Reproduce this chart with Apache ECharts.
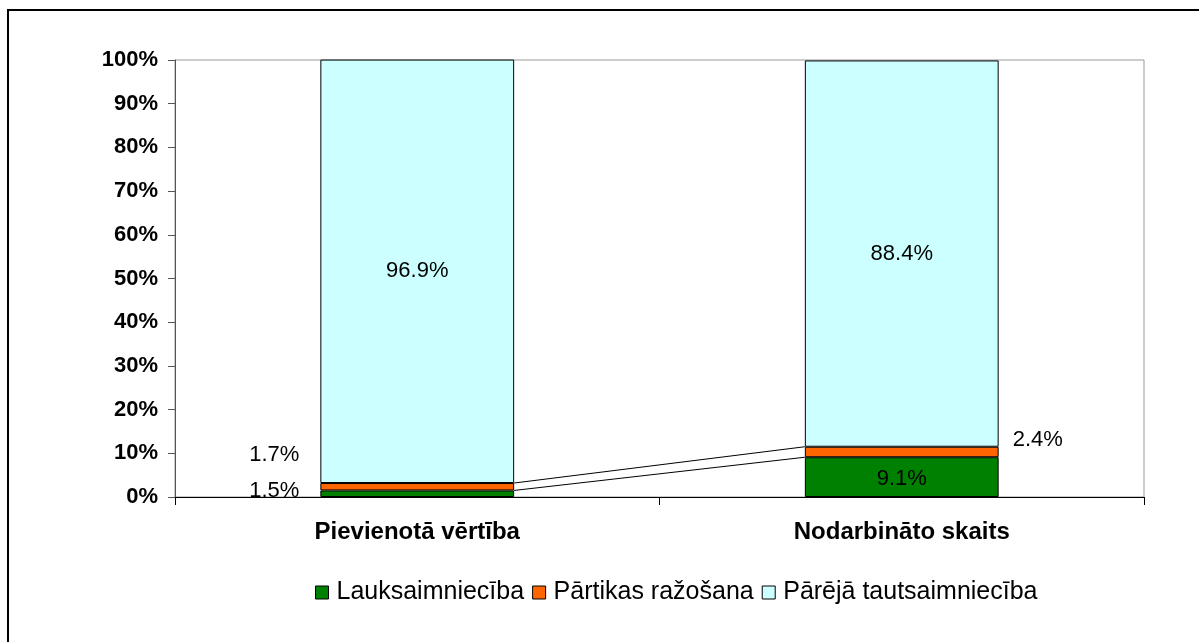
<!DOCTYPE html>
<html>
<head>
<meta charset="utf-8">
<script src="https://cdn.jsdelivr.net/npm/echarts@6/dist/echarts.min.js"></script>
<style>
  html, body { margin: 0; padding: 0; background: #fff; }
  #main { width: 1199px; height: 642px; }
</style>
</head>
<body>
<div id="main"></div>
<script>
// kategorijas un vērtības (%)
var categories = ['Pievienotā vērtība', 'Nodarbināto skaits'];
var seriesNames = ['Lauksaimniecība', 'Pārtikas ražošana', 'Pārējā tautsaimniecība'];
var lauks = [1.5, 9.1];
var partika = [1.7, 2.4];
var pareja = [96.9, 88.4];
var yTicks = [0, 10, 20, 30, 40, 50, 60, 70, 80, 90, 100];

var colors = ['#008000', '#FF6600', '#CCFFFF'];
var font = 'Liberation Sans, Arial, sans-serif';
var barW = 0.4;

function pct (p) { return Number(p.value).toFixed(1) + '%' }

// savienojošās līnijas starp stabiņiem
var linkData = [
  [0, lauks[0], lauks[1]],
  [0, lauks[0] + partika[0], lauks[1] + partika[1]]
];

var baseLabel = { show: true, formatter: pct, color: '#000', fontFamily: font, fontSize: 22 };

var option = {
  animation: false,
  backgroundColor: '#fff',
  graphic: [{
    type: 'rect',
    shape: { x: 8, y: 10, width: 1250, height: 700 },
    style: { fill: 'none', stroke: '#000', lineWidth: 2 },
    silent: true
  }],
  grid: {
    left: 175, top: 60, right: 55, bottom: 145,
    show: true, borderColor: '#999', borderWidth: 1
  },
  legend: {
    data: seriesNames,
    bottom: 32,
    left: 310,
    itemWidth: 13,
    itemHeight: 13,
    itemGap: 8,
    icon: 'rect',
    itemStyle: { borderColor: '#000', borderWidth: 1 },
    textStyle: { fontFamily: font, fontSize: 25, color: '#000', padding: [0, 0, 0, 3] }
  },
  xAxis: {
    type: 'category',
    data: categories,
    axisLine: { lineStyle: { color: '#000', width: 1 } },
    axisTick: { show: true, length: 8, lineStyle: { color: '#000' } },
    axisLabel: { fontFamily: font, fontSize: 24, fontWeight: 'bold', color: '#000', margin: 23 }
  },
  yAxis: {
    type: 'value',
    min: yTicks[0],
    max: yTicks[yTicks.length - 1],
    interval: 10,
    axisLine: { show: true, lineStyle: { color: '#555', width: 1 } },
    axisTick: { show: true, length: 7, lineStyle: { color: '#555' } },
    splitLine: { show: false },
    axisLabel: { formatter: '{value}%', fontFamily: font, fontSize: 22, fontWeight: 'bold', color: '#000', margin: 17 }
  },
  series: [
    {
      name: seriesNames[0], type: 'bar', stack: 'a', barWidth: '40%',
      itemStyle: { color: colors[0], borderColor: '#000', borderWidth: 1 },
      label: baseLabel,
      data: [
        { value: lauks[0], label: { position: 'left', distance: 21, offset: [0, -3] } },
        { value: lauks[1], label: { position: 'inside', offset: [0, 2] } }
      ]
    },
    {
      name: seriesNames[1], type: 'bar', stack: 'a', barWidth: '40%',
      itemStyle: { color: colors[1], borderColor: '#000', borderWidth: 1 },
      label: baseLabel,
      data: [
        { value: partika[0], label: { position: 'left', distance: 21, offset: [0, -32] } },
        { value: partika[1], label: { position: 'right', distance: 14, offset: [0, -12] } }
      ]
    },
    {
      name: seriesNames[2], type: 'bar', stack: 'a', barWidth: '40%',
      itemStyle: { color: colors[2], borderColor: '#000', borderWidth: 1 },
      label: Object.assign({}, baseLabel, { position: 'inside' }),
      data: pareja
    },
    {
      name: 'links', type: 'custom', z: 5, silent: true,
      encode: { x: 0, y: [1, 2] },
      renderItem: function (params, api) {
        var p0 = api.coord([0, api.value(1)]);
        var p1 = api.coord([1, api.value(2)]);
        var half = api.size([1, 0])[0] * barW / 2;
        return {
          type: 'line',
          shape: { x1: p0[0] + half, y1: p0[1], x2: p1[0] - half, y2: p1[1] },
          style: { stroke: '#000', lineWidth: 1 }
        };
      },
      data: linkData
    }
  ]
};

var chart = echarts.init(document.getElementById('main'));
chart.setOption(option);
</script>
</body>
</html>
